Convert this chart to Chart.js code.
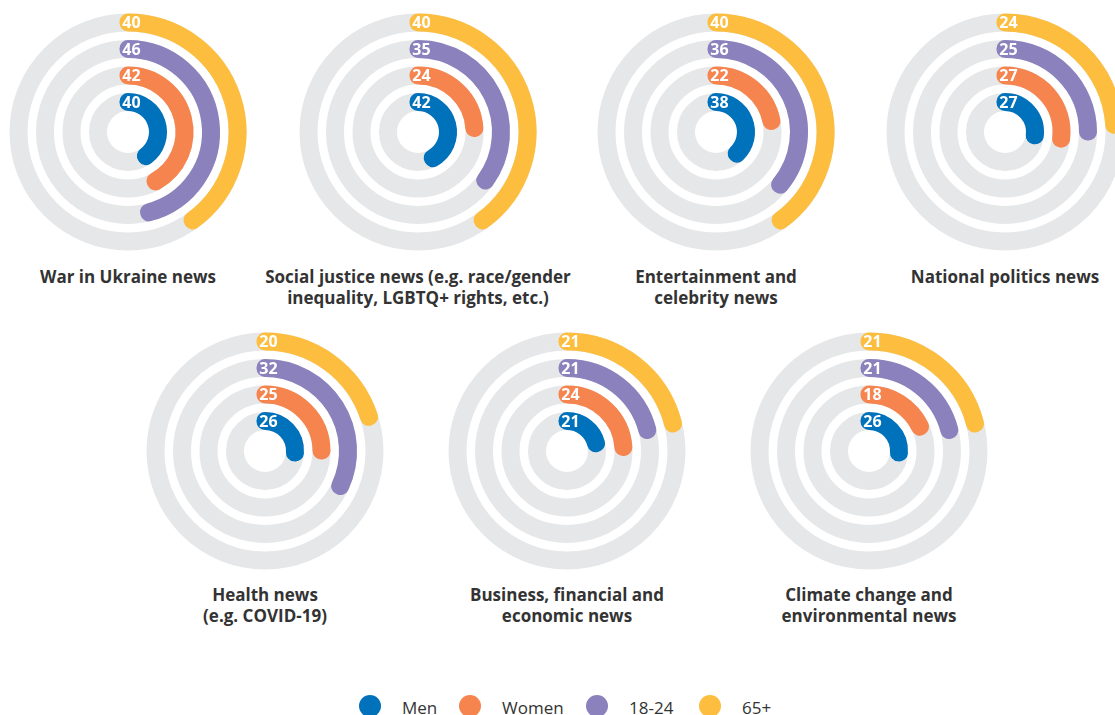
<!DOCTYPE html>
<html>
<head>
<meta charset="utf-8">
<script src="https://cdn.jsdelivr.net/npm/chart.js@4.4.1/dist/chart.umd.min.js"></script>
<style>
  html, body { margin: 0; padding: 0; background: #fff; overflow: hidden; }
  body { width: 1115px; height: 715px; position: relative; font-family: "Open Sans", Lato, sans-serif; color: #333; }
  .anillo { position: absolute; width: 250px; height: 250px; }
  .titulo { position: absolute; width: 400px; text-align: center; font-weight: 700; font-size: 17px; line-height: 21px; color: #333; }
  .punto { position: absolute; top: 695px; width: 22px; height: 22px; border-radius: 50%; }
  .txt { position: absolute; top: 697px; font-size: 17px; font-weight: 500; line-height: 22px; color: #333; }
</style>
</head>
<body>
<div id="graficas"></div>
<div id="leyenda"></div>

<script>
// 1. Datos
const categories = [
  ["War in Ukraine news"],
  ["Social justice news (e.g. race/gender", "inequality, LGBTQ+ rights, etc.)"],
  ["Entertainment and", "celebrity news"],
  ["National politics news"],
  ["Health news", "(e.g. COVID-19)"],
  ["Business, financial and", "economic news"],
  ["Climate change and", "environmental news"],
];
const seriesLabels = ["Men", "Women", "18-24", "65+"];
const men =       [40, 42, 38, 27, 26, 21, 26];
const women =     [42, 24, 22, 27, 25, 24, 18];
const age18to24 = [46, 35, 36, 25, 32, 21, 21];
const age65plus = [40, 40, 40, 24, 20, 21, 21];
const scaleMax = 100;

// 2. Estilos y posiciones
const colores = ["#0071bb", "#f5844e", "#8a81bd", "#fdbd3e"];
const gris = "#e6e7e8";
const centros = [
  [128, 132], [418, 132], [716, 132], [1005, 132],
  [265, 451], [567, 451], [869, 451],
];
const leyendaX = [370, 470, 597, 710]; // centro de cada círculo de la leyenda
const ANCHO = 18; // grosor visible de cada anillo

// 3. Plugin: pista gris detrás de cada anillo y número al inicio
const pistaYEtiquetas = {
  id: "pistaYEtiquetas",
  beforeDatasetsDraw(chart) {
    const ctx = chart.ctx;
    ctx.save();
    ctx.strokeStyle = gris;
    ctx.lineWidth = ANCHO;
    chart.data.datasets.forEach((ds, i) => {
      if (ds.serie === undefined) return;
      const el = chart.getDatasetMeta(i).data[0];
      const r = (el.innerRadius + el.outerRadius) / 2;
      ctx.beginPath();
      ctx.arc(el.x, el.y, r, 0, Math.PI * 2);
      ctx.stroke();
    });
    ctx.restore();
  },
  afterDatasetsDraw(chart) {
    const ctx = chart.ctx;
    ctx.save();
    ctx.fillStyle = "#fff";
    ctx.font = "700 16px 'Open Sans', Lato, sans-serif";
    ctx.textAlign = "center";
    ctx.textBaseline = "middle";
    chart.data.datasets.forEach((ds, i) => {
      if (ds.serie === undefined) return;
      const el = chart.getDatasetMeta(i).data[0];
      const r = (el.innerRadius + el.outerRadius) / 2;
      ctx.fillText(String(ds.data[0]), el.x + 3.5, el.y - r + 1);
    });
    ctx.restore();
  },
};

function anillo(valor, idx) {
  return {
    serie: idx,
    data: [valor, scaleMax - valor],
    backgroundColor: [colores[idx], "rgba(0,0,0,0)"],
    borderColor: [colores[idx], "rgba(0,0,0,0)"],
    borderWidth: [ANCHO - 1, 0],
    borderJoinStyle: "round",
    weight: 1,
  };
}
function hueco() {
  return { data: [1], backgroundColor: "rgba(0,0,0,0)", borderWidth: 0, weight: 25.5 };
}

// 4. Crear cada gráfica radial
function crearGraficas() {
  const cont = document.getElementById("graficas");
  categories.forEach((lineas, k) => {
    const [cx, cy] = centros[k];
    const div = document.createElement("div");
    div.className = "anillo";
    div.style.left = (cx - 125) + "px";
    div.style.top = (cy - 125) + "px";
    const canvas = document.createElement("canvas");
    canvas.width = 250;
    canvas.height = 250;
    div.appendChild(canvas);
    cont.appendChild(div);

    // de fuera hacia dentro: 65+, 18-24, Women, Men
    const datasets = [
      anillo(age65plus[k], 3), hueco(),
      anillo(age18to24[k], 2), hueco(),
      anillo(women[k], 1), hueco(),
      anillo(men[k], 0),
    ];

    new Chart(canvas.getContext("2d"), {
      type: "doughnut",
      data: { labels: ["valor", "resto"], datasets },
      options: {
        responsive: false,
        animation: false,
        events: [],
        radius: 110,
        cutout: (29.5 / 110 * 100) + "%",
        hoverOffset: 0,
        plugins: { legend: { display: false }, tooltip: { enabled: false } },
      },
      plugins: [pistaYEtiquetas],
    });

    const t = document.createElement("div");
    t.className = "titulo";
    t.style.left = (cx - 200) + "px";
    t.style.top = (k < 4 ? 265.5 : 583.5) + "px";
    t.innerHTML = lineas.join("<br>");
    document.body.appendChild(t);
  });
}

// 5. Leyenda
function crearLeyenda() {
  const ley = document.getElementById("leyenda");
  ley.innerHTML = seriesLabels
    .map((s, i) =>
      `<span class="punto" style="left:${leyendaX[i] - 11}px;background:${colores[i]}"></span>` +
      `<span class="txt" style="left:${leyendaX[i] + 32}px">${s}</span>`)
    .join("");
}

crearGraficas();
crearLeyenda();
</script>
</body>
</html>
